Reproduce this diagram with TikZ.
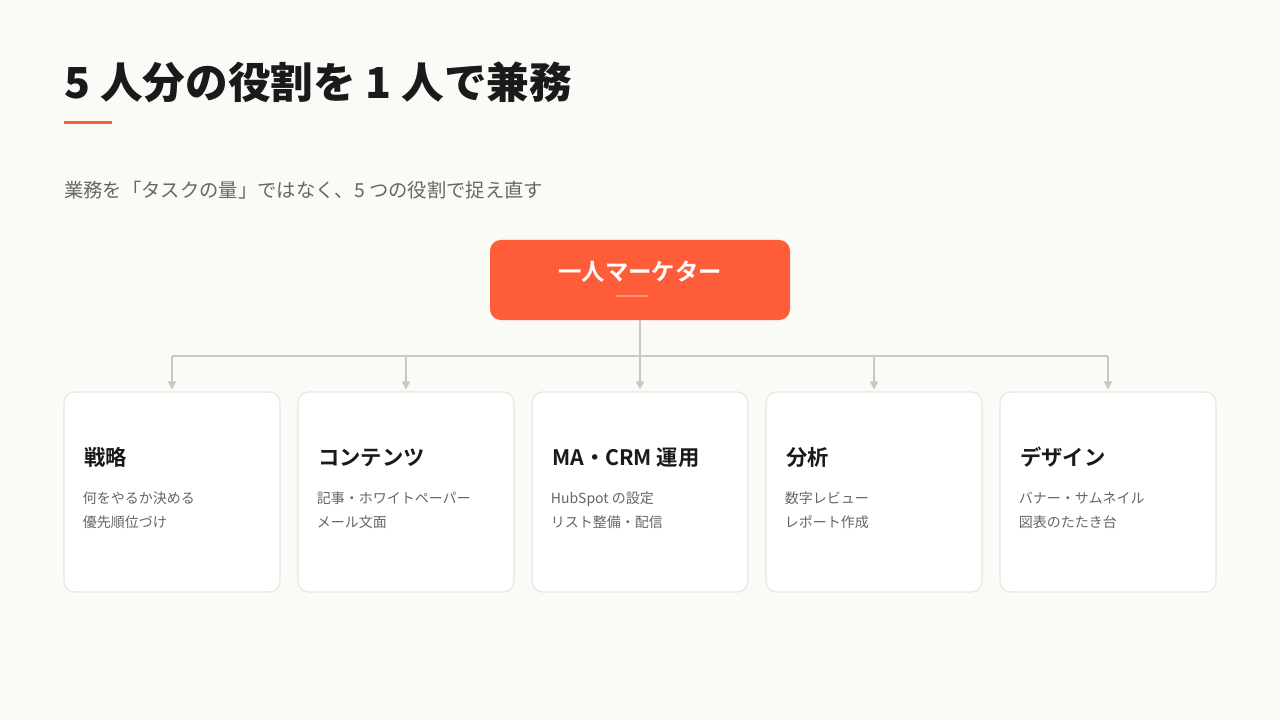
\documentclass[tikz,border=0pt]{standalone}
\usepackage{fontspec}
\setmainfont{Noto Sans CJK JP}
\newfontfamily\jpblack{Noto Sans CJK JP Black}
\newfontfamily\jpbold{Noto Sans CJK JP Bold}
\usetikzlibrary{arrows.meta}
\usetikzlibrary{positioning}
\definecolor{bgcream}{HTML}{FAFAF7}
\definecolor{accent}{HTML}{FF5C3A}
\definecolor{inkdark}{HTML}{1A1A1A}
\definecolor{inkgray}{HTML}{666666}
\definecolor{wire}{HTML}{C8C8C0}
\definecolor{cardline}{HTML}{E6E6E2}
\tikzset{
  role/.style={draw=cardline,fill=white,rounded corners=8pt,line width=0.8pt,
    minimum width=162pt,minimum height=150pt,inner sep=0pt},
  rolename/.style={anchor=west,text=inkdark,font=\jpbold\fontsize{16}{18}\selectfont},
  roletext/.style={anchor=north west,text=inkgray,align=left,
    font=\fontsize{10.5}{18}\selectfont},
  feed/.style={wire,line width=1.2pt},
}
\begin{document}
\begin{tikzpicture}[x=0.75pt,y=-0.75pt]
  \useasboundingbox[fill=bgcream] (0,0) rectangle (1280,720);
  %TITLE
  \node[anchor=west,text=inkdark,font=\jpblack\fontsize{32}{36}\selectfont,inner sep=0pt] (title) at (64,82) {5 人分の役割を 1 人で兼務};
  \draw[accent,line width=2.25pt] (64,123) -- (112,123);
  \node[anchor=west,text=inkgray,font=\fontsize{14.5}{16}\selectfont,inner sep=0pt] (sub) at (64,190) {業務を「タスクの量」ではなく、5 つの役割で捉え直す};
  %BOSS
  \node[fill=accent,rounded corners=8pt,minimum width=225pt,minimum height=60pt,inner sep=0pt] (boss) at (640,280) {};
  \node[text=white,font=\jpbold\fontsize{17.5}{20}\selectfont] (bosslabel) at (640,272) {一人マーケター};
  \draw[white,opacity=0.35,line width=0.8pt] (616,296) -- (648,296);
  %CARDS
  \foreach \i/\x/\name/\desc in {
    1/172/戦略/{何をやるか決める\\優先順位づけ},
    2/406/コンテンツ/{記事・ホワイトペーパー\\メール文面},
    3/640/MA・CRM 運用/{HubSpot の設定\\リスト整備・配信},
    4/874/分析/{数字レビュー\\レポート作成},
    5/1108/デザイン/{バナー・サムネイル\\図表のたたき台}}{
    \node[role] (c\i) at (\x,492) {};
    \node[rolename] (n\i) at ([xshift=12pt,yshift=-49.5pt]c\i.north west) {\name};
    \node[roletext] (d\i) at ([xshift=11pt,yshift=-72pt]c\i.north west) {\desc};
  }
  %CONNECTORS
  \coordinate (bus) at (640,356);
  \draw[feed] (boss.south) -- (bus);
  \draw[feed] (bus -| c1.north) -- (bus -| c5.north);
  \foreach \i in {1,...,5}{
    \draw[feed,-{Triangle[length=6pt,width=6pt]}] (bus -| c\i.north) -- ([yshift=1.5pt]c\i.north);
  }
\end{tikzpicture}
\end{document}
